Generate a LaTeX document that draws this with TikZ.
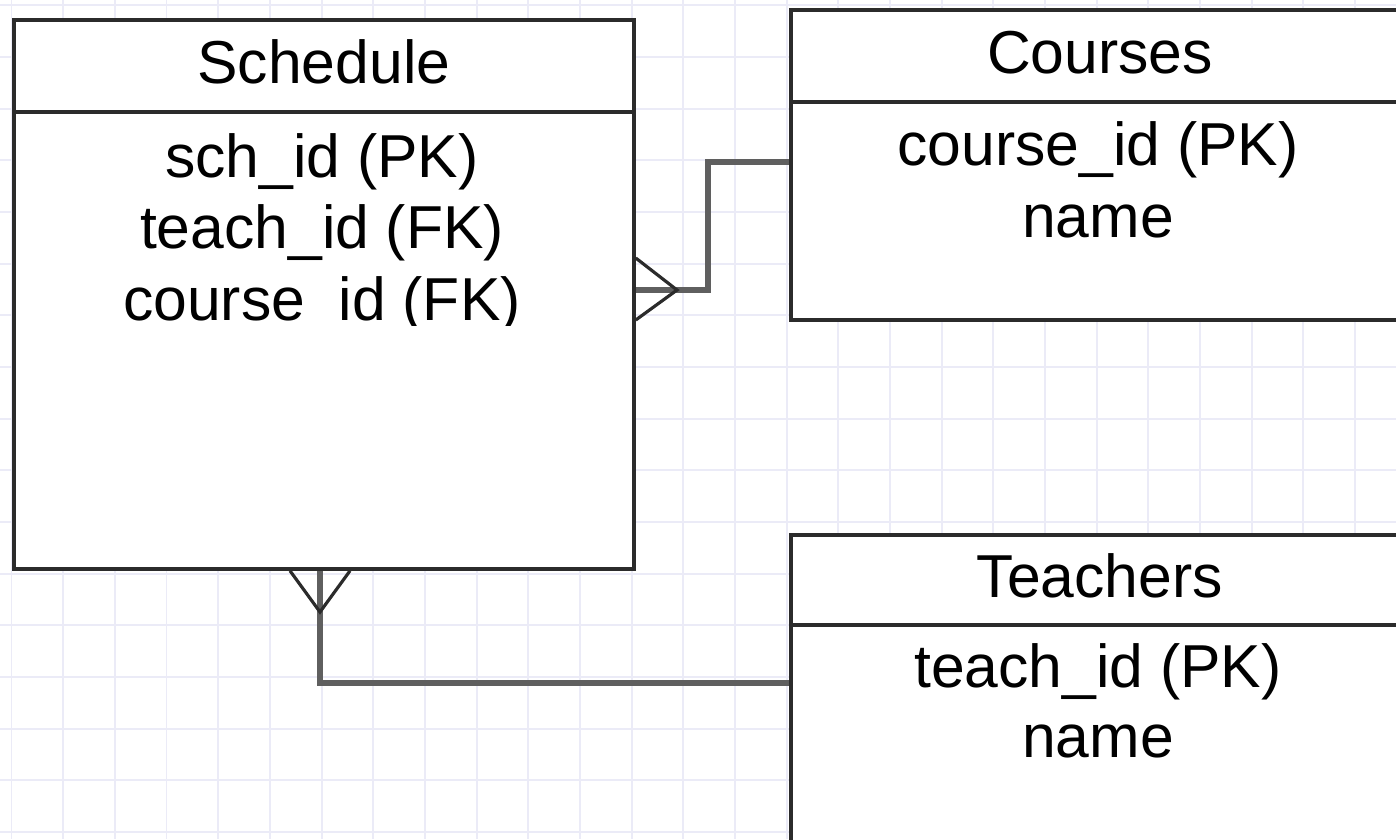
\documentclass[tikz,border=0pt]{standalone}
\usepackage{fontspec}
\setmainfont{Liberation Sans}
\usetikzlibrary{positioning}
\definecolor{gridc}{HTML}{EBEBF7}
\definecolor{boxc}{HTML}{2B2B2B}
\definecolor{linkc}{HTML}{5F5F5F}

\begin{document}
\begin{tikzpicture}[
  x=0.02cm, y=-0.02cm,
  font=\fontsize{34.5}{40}\selectfont,
  gridln/.style={gridc, line width=1pt},
  hdr/.style={draw=boxc, fill=white, line width=2.2pt, anchor=north west,
    inner sep=0pt, text height=20pt, text depth=0pt},
  body/.style={draw=boxc, fill=white, line width=2.2pt, anchor=north west,
    inner sep=0pt},
  field/.style={anchor=base, inner sep=0pt},
  link/.style={linkc, line width=3.4pt},
  crow/.style={boxc, line width=1.8pt},
]

% ---------- canvas + grid ----------
\clip (0,0) rectangle (1396,839);
\fill[white] (0,0) rectangle (1396,839);
\foreach \gx in {0,...,26}
  \draw[gridln] (11.6+51.67*\gx,0) -- ++(0,839);
\foreach \gy in {0,...,16}
  \draw[gridln] (0,5.3+51.67*\gy) -- ++(1396,0);

% ---------- Schedule ----------
\node[hdr, minimum width=12.4cm, minimum height=1.84cm] (sched-h) at (12,18) {Schedule};
\node[body, minimum width=12.4cm, minimum height=9.14cm] (sched) at (12,110) {};
\begin{scope}
  \clip (12,110) rectangle (632,325);
  % row: name, baseline y, text
  \foreach \i/\y/\txt in {
     1/177/{sch\_id (PK)},
     2/248/{teach\_id (FK)},
     3/320/{course\_id (FK)}}
  {
    \node[field] (sched-\i) at (322,\y) {\txt};
  }
\end{scope}

% ---------- Courses ----------
\node[hdr, minimum width=12.36cm, minimum height=1.84cm] (course-h) at (789,8) {Courses};
\node[body, minimum width=12.36cm, minimum height=4.36cm] (course) at (789,100) {};
\foreach \i/\y/\txt in {
   1/165/{course\_id (PK)},
   2/237/{name}}
{
  \node[field] (course-\i) at (1098,\y) {\txt};
}

% ---------- Teachers ----------
\node[hdr, minimum width=12.36cm, minimum height=1.8cm] (teach-h) at (789,533) {Teachers};
\node[body, minimum width=12.36cm, minimum height=5.54cm] (teach) at (789,623) {};
\foreach \i/\y/\txt in {
   1/687/{teach\_id (PK)},
   2/757/{name}}
{
  \node[field] (teach-\i) at (1098,\y) {\txt};
}

% ---------- relations (crow's foot on Schedule) ----------
\coordinate (cfoot) at (677,290);
\draw[link] (course.west |- 0,162) -| (708,290) -- (sched.east |- 0,290);
\draw[crow] (sched.east |- 0,258) -- (cfoot) -- (sched.east |- 0,320);

\coordinate (tfoot) at (320,612);
\draw[link] (teach.west |- 0,683) -| (320,612) -- (sched.south -| 320,0);
\draw[crow] (sched.south -| 290,0) -- (tfoot) -- (sched.south -| 350,0);

\end{tikzpicture}
\end{document}
